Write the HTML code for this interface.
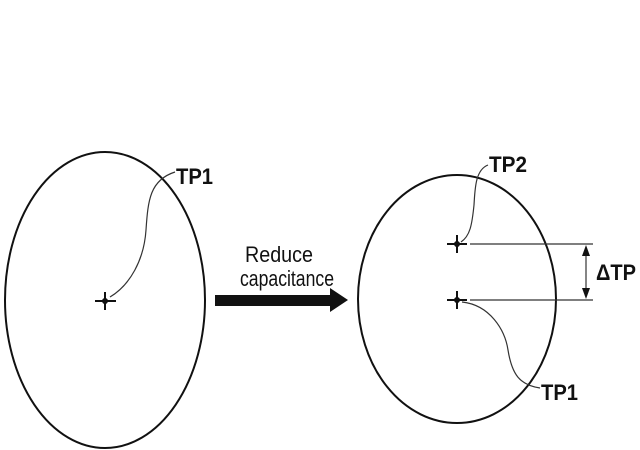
<!DOCTYPE html>
<html><head><style>body{margin:0;background:#fff}svg{display:block}</style></head><body>
<svg width="640" height="450" viewBox="0 0 640 450" xmlns="http://www.w3.org/2000/svg">
<g fill="none" stroke="#111" stroke-width="2">
<ellipse cx="105" cy="300" rx="100" ry="148"/>
<ellipse cx="457" cy="299" rx="99" ry="124"/>
</g>
<g stroke="#111" stroke-width="2">
<line x1="95" y1="301" x2="116" y2="301"/><line x1="105" y1="292" x2="105" y2="310"/>
<line x1="447" y1="244" x2="467" y2="244"/><line x1="457" y1="235" x2="457" y2="253"/>
<line x1="447" y1="300" x2="467" y2="300"/><line x1="457" y1="291" x2="457" y2="309"/>
</g>
<circle cx="105" cy="301" r="3" fill="#111"/><circle cx="457" cy="244" r="3" fill="#111"/><circle cx="457" cy="300" r="3" fill="#111"/>
<g fill="none" stroke="#333" stroke-width="1.2">
<path d="M175 172 C150 180,148 200,146 230 C144 260,130 285,110 297"/>
<path d="M488 165 C475 170,475 190,474 205 C472 225,470 236,461 242"/>
<path d="M462 302 C490 305,505 330,508 350 C512 375,520 385,540 388"/>
<line x1="470" y1="244" x2="593" y2="244"/>
<line x1="470" y1="300" x2="593" y2="300"/>
<line x1="586" y1="250" x2="586" y2="294"/>
</g>
<polygon points="586,245 582,256 590,256" fill="#111"/>
<polygon points="586,299 582,288 590,288" fill="#111"/>
<polygon points="215,295 330,295 330,288 348,300 330,312 330,306 215,306" fill="#111"/>
<g font-family="Liberation Sans, sans-serif" font-size="22" fill="#111" font-weight="bold">
<text x="176" y="184" textLength="37" lengthAdjust="spacingAndGlyphs">TP1</text>
<text x="489" y="172" textLength="38" lengthAdjust="spacingAndGlyphs">TP2</text>
<text x="541" y="400" textLength="37" lengthAdjust="spacingAndGlyphs">TP1</text>
<text x="596" y="280" textLength="40" lengthAdjust="spacingAndGlyphs">ΔTP</text>
<text x="245" y="262" font-weight="normal" textLength="68" lengthAdjust="spacingAndGlyphs">Reduce</text>
<text x="240" y="286" font-weight="normal" textLength="94" lengthAdjust="spacingAndGlyphs">capacitance</text>
</g>
</svg>
</body></html>
